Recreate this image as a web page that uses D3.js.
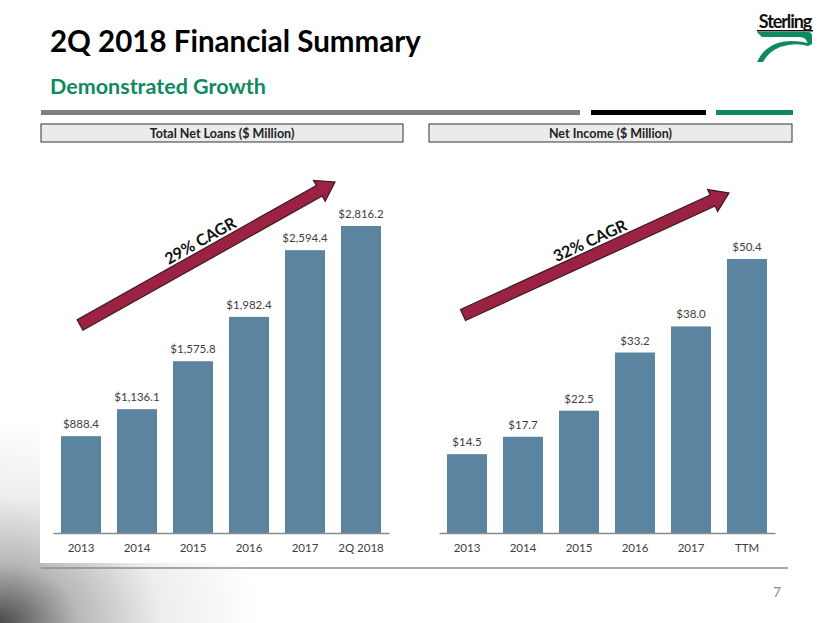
<!DOCTYPE html>
<html><head><meta charset="utf-8">
<script src="https://cdn.jsdelivr.net/npm/d3@7"></script>
<style>body{margin:0;background:#fff}svg{display:block}text{font-family:Lato,"Open Sans",sans-serif}</style>
</head><body><div id="c"></div>
<script>
const loanCategories = ["2013","2014","2015","2016","2017","2Q 2018"];
const loanValues = [888.4,1136.1,1575.8,1982.4,2594.4,2816.2];
const incomeCategories = ["2013","2014","2015","2016","2017","TTM"];
const incomeValues = [14.5,17.7,22.5,33.2,38.0,50.4];
const panelTitles = ["Total Net Loans ($ Million)","Net Income ($ Million)"];
const cagrLabels = ["29% CAGR","32% CAGR"];

const W=830,H=623;
const svg=d3.select("#c").append("svg").attr("width",W).attr("height",H);
const defs=svg.append("defs");
const rg=defs.append("radialGradient").attr("id","corner").attr("cx",0).attr("cy",1).attr("r",1)
  .attr("gradientUnits","objectBoundingBox");
rg.append("stop").attr("offset","0").attr("stop-color","#4a4a4a");
rg.append("stop").attr("offset","0.3").attr("stop-color","#b8b8b8");
rg.append("stop").attr("offset","0.62").attr("stop-color","#ededed");
rg.append("stop").attr("offset","1").attr("stop-color","#ffffff");
svg.append("rect").attr("x",0).attr("y",420).attr("width",260).attr("height",203).attr("fill","url(#corner)");
// white chart area
svg.append("rect").attr("x",40).attr("y",150).attr("width",760).attr("height",413).attr("fill","#fff");

// title
svg.append("text").attr("x",50).attr("y",52).attr("font-size",29.5).attr("font-weight",700).attr("fill","#000").text("2Q 2018 Financial Summary");
svg.append("text").attr("x",50).attr("y",94).attr("font-size",21.5).attr("font-weight",700).attr("fill","#0f8a5f").text("Demonstrated Growth");

// header bars
svg.append("rect").attr("x",41).attr("y",110).attr("width",539).attr("height",5).attr("fill","#7f7f7f");
svg.append("rect").attr("x",591).attr("y",110).attr("width",115).attr("height",5).attr("fill","#000");
svg.append("rect").attr("x",716).attr("y",110).attr("width",77).attr("height",5).attr("fill","#0f8a5f");

// logo
const lg=svg.append("g");
lg.append("text").attr("x",785).attr("y",28).attr("text-anchor","middle").attr("font-size",18).attr("font-weight",700)
  .attr("font-family","'DejaVu Serif',serif").attr("letter-spacing",-1.1).attr("fill","#111").text("Sterling");
lg.append("rect").attr("x",757).attr("y",30).attr("width",56).attr("height",1.5).attr("fill","#111");
lg.append("path").attr("d","M757,32 L808,32 Q812,32 812,36 L812,44 L808,44 Q806,37 800,37 L762,37 Z").attr("fill","#0f8a5f");
lg.append("path").attr("d","M812,44 Q790,38 775,44 Q762,50 757,62 L763,62 Q768,52 780,47 Q795,42 808,46 Z").attr("fill","#0f8a5f");

// panels
const panels=[
 {cats:loanCategories,vals:loanValues,x0:53,x1:389,boxX:41,boxW:362,top:226,fmt:d3.format(",.1f"),arrow:[[80,325],[335,182]]},
 {cats:incomeCategories,vals:incomeValues,x0:439,x1:775,boxX:429,boxW:363,top:259,fmt:d3.format(",.1f"),arrow:[[463,315],[729,193]]}
];
const base=533;
panels.forEach((p,i)=>{
  const g=svg.append("g");
  g.append("rect").attr("x",p.boxX).attr("y",124).attr("width",p.boxW).attr("height",18).attr("fill","#ebebeb").attr("stroke","#333").attr("stroke-width",1);
  g.append("text").attr("x",p.boxX+p.boxW/2).attr("y",137.5).attr("text-anchor","middle").attr("font-size",12.5).attr("font-weight",700).attr("fill","#222").text(panelTitles[i]);
  const x=d3.scaleBand().domain(p.cats).range([p.x0,p.x1]).paddingInner(0.286).paddingOuter(0.143);
  const y=d3.scaleLinear().domain([0,d3.max(p.vals)]).range([base,p.top]);
  g.selectAll("rect.bar").data(p.vals).join("rect").attr("class","bar")
    .attr("x",(d,j)=>x(p.cats[j])).attr("width",x.bandwidth())
    .attr("y",d=>y(d)).attr("height",d=>base-y(d)).attr("fill","#5b84a0");
  g.selectAll("text.val").data(p.vals).join("text").attr("class","val")
    .attr("x",(d,j)=>x(p.cats[j])+x.bandwidth()/2).attr("y",d=>y(d)-8)
    .attr("text-anchor","middle").attr("font-size",11.5).attr("fill","#404040").text(d=>"$"+p.fmt(d));
  const ax=g.append("g").attr("transform",`translate(0,${base})`).call(d3.axisBottom(x).tickSize(0).tickPadding(11));
  ax.select(".domain").attr("stroke","#8c8c8c").attr("stroke-width",1.5);
  ax.selectAll("text").attr("font-size",11.5).attr("fill","#404040").attr("font-family","Lato,sans-serif");
  // arrow
  const [[ax0,ay0],[ax1,ay1]]=p.arrow;
  const L=Math.hypot(ax1-ax0,ay1-ay0), ang=Math.atan2(ay1-ay0,ax1-ax0)*180/Math.PI;
  const sw=6, hw=12, hl=18;
  const ag=g.append("g").attr("transform",`translate(${ax0},${ay0}) rotate(${ang})`);
  ag.append("path").attr("d",`M0,${-sw} L${L-hl},${-sw} L${L-hl},${-hw} L${L},0 L${L-hl},${hw} L${L-hl},${sw} L0,${sw} Z`)
    .attr("fill","#9b2242").attr("stroke","#3a1a22").attr("stroke-width",1.2);
  ag.append("text").attr("x",L/2).attr("y",-9).attr("text-anchor","middle").attr("font-size",16).attr("font-weight",700).attr("fill","#111").text(cagrLabels[i]);
});

// bottom line
svg.append("line").attr("x1",41).attr("x2",788).attr("y1",568).attr("y2",568).attr("stroke","#8c8c8c").attr("stroke-width",1.5);
svg.append("text").attr("x",777).attr("y",597).attr("text-anchor","middle").attr("font-size",14).attr("fill","#8c8c8c").text("7");
</script></body></html>
